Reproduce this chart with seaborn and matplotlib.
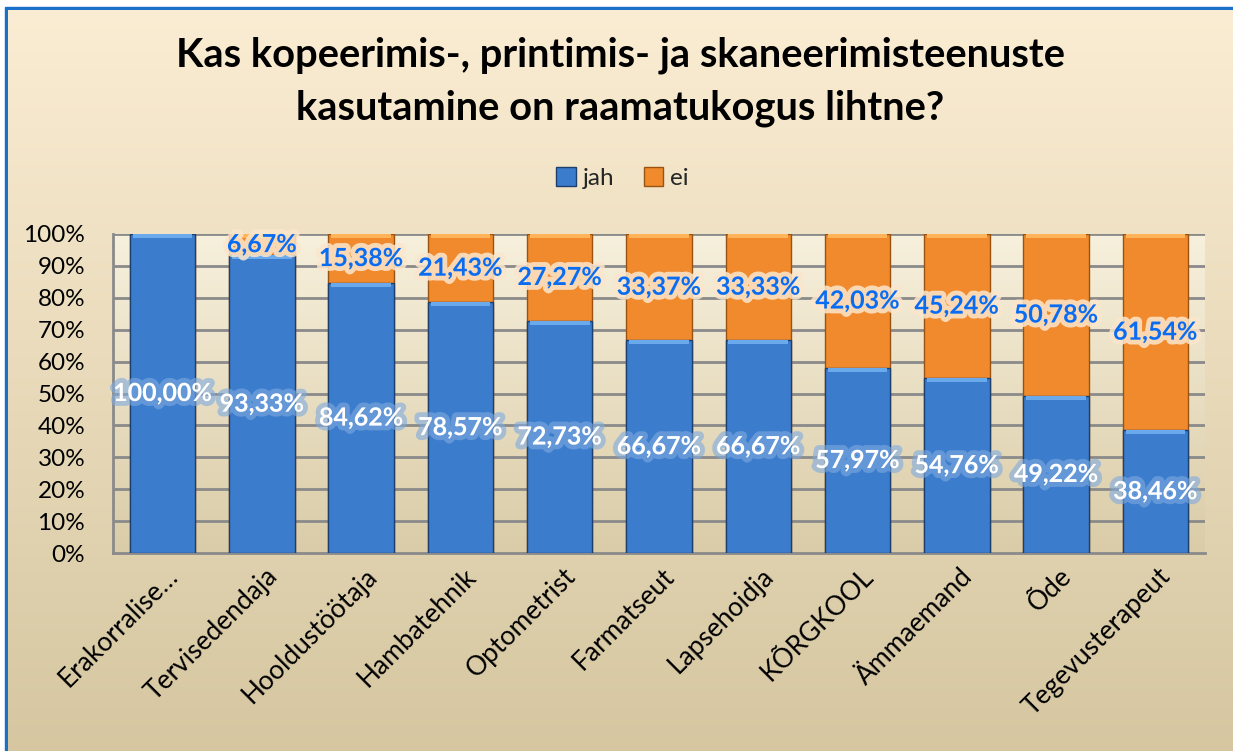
import numpy as np
import pandas as pd
import matplotlib
matplotlib.use("Agg")
import matplotlib.pyplot as plt
import matplotlib.patheffects as pe
import matplotlib.transforms as mtrans
from matplotlib.patches import Rectangle, Patch
import seaborn as sns

# data
ametid = ["Erakorralise…", "Tervisedendaja", "Hooldustöötaja", "Hambatehnik",
          "Optometrist", "Farmatseut", "Lapsehoidja", "KÕRGKOOL", "Ämmaemand",
          "Õde", "Tegevusterapeut"]
jah = [100.00, 93.33, 84.62, 78.57, 72.73, 66.67, 66.67, 57.97, 54.76, 49.22, 38.46]
ei = [0.00, 6.67, 15.38, 21.43, 27.27, 33.37, 33.33, 42.03, 45.24, 50.78, 61.54]
yticks = [0, 10, 20, 30, 40, 50, 60, 70, 80, 90, 100]

df = pd.DataFrame({"amet": ametid, "jah": jah, "ei": ei})
df["kokku"] = 100.0  # stacked to 100%

sns.set_theme(style="white")
plt.rcParams["font.family"] = ["Lato", "DejaVu Sans"]

fig = plt.figure(figsize=(12.33, 7.51), dpi=100)
fig.patch.set_facecolor("white")
fig.patch.set_linewidth(0)

# figure background: blue strip for the border, gradient panel on top of it
fig.patches.append(Rectangle((4.5 / 1233, 0), 1, 1 - 6.5 / 751, color="#1a6fc9",
                             transform=fig.transFigure, figure=fig, zorder=-20))
bg = fig.add_axes([7.5 / 1233, -0.02, 1.03, 1.02 - 9.5 / 751], zorder=-10)
grad = np.linspace(0, 1, 256).reshape(-1, 1)
top_c = np.array([251, 237, 211]) / 255
bot_c = np.array([213, 198, 160]) / 255
img = top_c * (1 - grad[..., None]) + bot_c * grad[..., None]
bg.imshow(img, aspect="auto", extent=[0, 1, 0, 1])
bg.set_xlim(0, 1)
bg.set_ylim(0, 1)
bg.axis("off")

ax = fig.add_axes([113 / 1233, 1 - 553 / 751, (1205 - 113) / 1233, (553 - 234) / 751])
ax.set_facecolor("none")

# plot area wall gradient
wall_top = np.array([247, 240, 220]) / 255
wall_bot = np.array([218, 204, 168]) / 255
wimg = wall_top * (1 - grad[..., None]) + wall_bot * grad[..., None]
ax.imshow(wimg, aspect="auto", extent=[-0.5, len(ametid) - 0.5, 0, 100], zorder=0)

blue = "#3b7dcc"
orange = "#f08a2c"

sns.barplot(data=df, x="amet", y="kokku", color=orange, saturation=1, width=0.66,
            edgecolor="#9a5210", linewidth=1, ax=ax, zorder=3)
sns.barplot(data=df, x="amet", y="jah", color=blue, saturation=1, width=0.66,
            edgecolor="#1d3f6e", linewidth=1, ax=ax, zorder=4)

# light bevel at top of each segment
for cont, light in [(ax.containers[0], "#ffb45a"), (ax.containers[1], "#6aa9ec")]:
    for bar in cont:
        x0, w, h = bar.get_x(), bar.get_width(), bar.get_height()
        ax.add_patch(Rectangle((x0 + 0.03, h - 1.2), w - 0.06, 1.2, color=light,
                               zorder=5, lw=0))

ax.set_xlim(-0.5, len(ametid) - 0.5)
ax.set_ylim(0, 100)
ax.set_yticks(yticks)
ax.set_yticklabels([f"{v}%" for v in yticks], fontsize=17.5, color="black")
for v in yticks[1:]:
    ax.axhline(v, color="#8a8a8a", lw=2, zorder=1)
for s in ["top", "right"]:
    ax.spines[s].set_visible(False)
for s in ["left", "bottom"]:
    ax.spines[s].set_color("#8a8a8a")
    ax.spines[s].set_linewidth(2)
ax.tick_params(axis="y", length=0, pad=20)
ax.tick_params(axis="x", length=0, pad=4)
ax.set_xlabel("")
ax.set_ylabel("")

ax.set_xticks(range(len(ametid)))
ax.set_xticklabels(ametid, rotation=45, ha="right", rotation_mode="anchor",
                   fontsize=19, color="black")
offset = mtrans.ScaledTranslation(3 / 100, -5 / 100, fig.dpi_scale_trans)
for lab in ax.get_xticklabels():
    lab.set_transform(lab.get_transform() + offset)

# data labels
fx_jah = [pe.withStroke(linewidth=7, foreground="#7eaae0", alpha=0.6)]
fx_ei = [pe.withStroke(linewidth=7, foreground="#fbe6cc", alpha=0.85)]
for i, (j, e) in enumerate(zip(jah, ei)):
    ax.text(i, j / 2, f"{j:.2f}%".replace(".", ","), ha="center", va="center",
            fontsize=18, fontweight="bold", color="white", path_effects=fx_jah,
            zorder=8)
    if e > 0:
        ax.text(i, 100 - e / 2, f"{e:.2f}%".replace(".", ","), ha="center",
                va="center", fontsize=18, fontweight="bold", color="#0a6cf0",
                path_effects=fx_ei, zorder=8)

fig.text(0.503, 1 - 82 / 751, "Kas kopeerimis-, printimis- ja skaneerimisteenuste\n"
         "kasutamine on raamatukogus lihtne?", ha="center", va="center",
         fontsize=28.7, fontweight="bold", color="black", linespacing=1.5)

# legend
handles = [Patch(facecolor=blue, edgecolor="#1d3f6e", label="jah"),
           Patch(facecolor=orange, edgecolor="#9a5210", label="ei")]
fig.legend(handles=handles, loc="center", bbox_to_anchor=(0.505, 1 - 178 / 751),
           ncol=2, frameon=False, fontsize=17.5, handlelength=0.8, handleheight=0.8,
           handletextpad=0.3, columnspacing=1.2)

fig.savefig("out.png", dpi=100, edgecolor="none")
